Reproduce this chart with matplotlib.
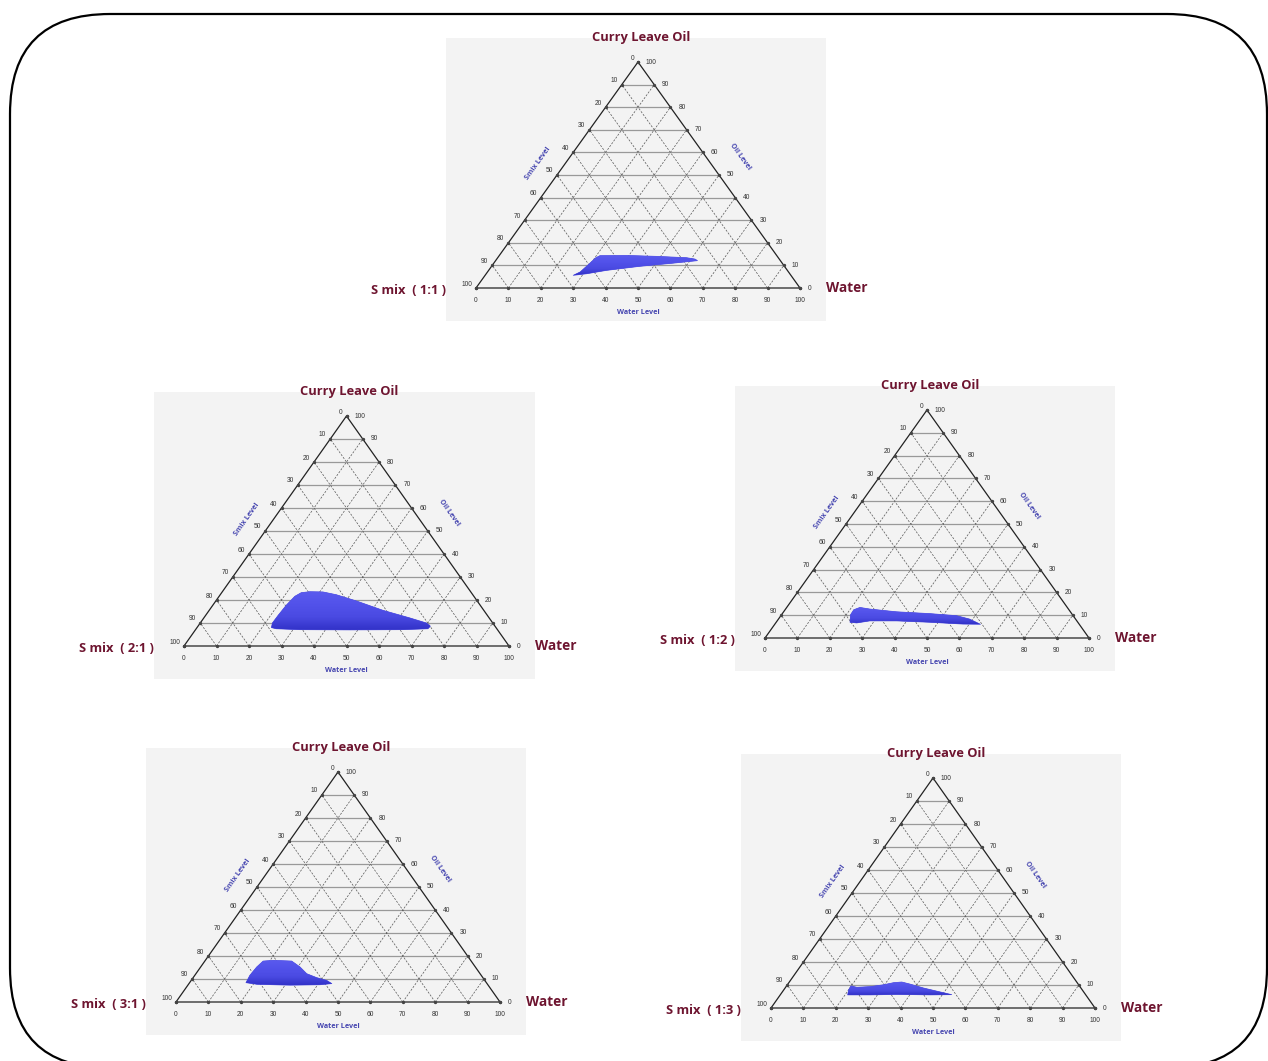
import numpy as np
import matplotlib
matplotlib.use("Agg")
import matplotlib.pyplot as plt
from matplotlib.patches import Polygon, FancyBboxPatch
from matplotlib.colors import LinearSegmentedColormap

# Microemulsion region outlines: % water and % curry leave oil (S mix is the rest)
water_11 = [27.2, 28.6, 29.5, 30.3, 31.1, 39.3, 48.8, 58.3, 61.2, 62.3, 55.4, 45.8, 36.4, 31.0]
oil_11 = [5.6, 7.1, 10.3, 13.4, 14.3, 14.4, 14.0, 13.4, 12.8, 12.1, 11.0, 9.6, 7.8, 6.3]

water_21 = [22.9, 22.2, 22.3, 22.6, 23.3, 24.5, 26.9, 31.0, 35.7, 43.2, 53.5, 63.4, 69.6,
            71.5, 71.3, 63.8, 47.5, 32.0, 24.6]
oil_21 = [8.0, 10.0, 13.3, 17.7, 21.6, 23.2, 23.6, 23.5, 22.3, 19.6, 15.5, 12.2, 10.0,
          8.6, 7.5, 7.1, 7.0, 7.1, 7.5]

water_12 = [22.8, 21.3, 21.2, 22.6, 26.0, 34.8, 45.5, 54.2, 59.0, 63.5, 58.1, 47.4, 36.9, 28.6, 25.0]
oil_12 = [6.9, 10.2, 12.4, 13.4, 12.7, 11.5, 10.7, 9.8, 8.3, 6.0, 6.1, 6.9, 7.5, 7.5, 6.6]

water_31 = [17.4, 17.0, 17.3, 18.0, 21.0, 26.8, 30.7, 34.2, 38.1, 41.8, 44.1, 40.7, 31.6, 21.1]
oil_31 = [8.4, 11.6, 15.2, 17.8, 18.1, 17.8, 15.2, 12.3, 10.6, 9.4, 8.0, 7.5, 7.3, 7.7]

water_13 = [20.8, 20.0, 19.9, 22.0, 26.0, 29.7, 32.3, 34.7, 37.7, 42.7, 47.6, 52.9, 46.3, 35.9, 27.8]
oil_13 = [5.7, 8.0, 9.6, 9.0, 9.3, 10.1, 11.0, 11.3, 10.4, 8.7, 7.3, 5.8, 5.7, 5.9, 5.7]

ratios = ["1:1", "2:1", "1:2", "3:1", "1:3"]
regions = {
    "1:1": (water_11, oil_11),
    "2:1": (water_21, oil_21),
    "1:2": (water_12, oil_12),
    "3:1": (water_31, oil_31),
    "1:3": (water_13, oil_13),
}
ticks = list(range(0, 101, 10))

# triangle placement in pixels: bottom-left x, bottom y, width, height
layout = {
    "1:1": (476, 288, 324, 226),
    "2:1": (184, 646, 325, 230),
    "1:2": (765, 638, 324, 228),
    "3:1": (176, 1002, 324, 230),
    "1:3": (771, 1008, 324, 230),
}

W, H = 1268, 1061
TITLE_COL = "#6e1530"
AXIS_COL = "#4646b0"
TICK_COL = "#333333"
PAD_L, PAD_R, PAD_T, PAD_B = 30, 26, 24, 33

region_cmap = LinearSegmentedColormap.from_list(
    "region", ["#3232c8", "#4a4ae2", "#5252ea", "#5a5aee"])


def to_xy(water, oil):
    water = np.asarray(water, float)
    oil = np.asarray(oil, float)
    return water + oil / 2.0, oil


def draw_panel(fig, ratio):
    bx, by, tw, th = layout[ratio]
    sx, sy = tw / 100.0, th / 100.0
    x0, x1 = bx - PAD_L, bx + tw + PAD_R
    y0, y1 = by - th - PAD_T, by + PAD_B
    ax = fig.add_axes([x0 / W, 1 - y1 / H, (x1 - x0) / W, (y1 - y0) / H])
    ax.set_facecolor("#f3f3f3")
    for s in ax.spines.values():
        s.set_visible(False)
    ax.set_xticks([])
    ax.set_yticks([])

    # grid
    for v in ticks[1:-1]:
        ax.plot([v / 2, 100 - v / 2], [v, v], color="#999999", lw=0.9, zorder=1)
        ax.plot([v, v + (100 - v) / 2], [0, 100 - v], color="#555555", lw=0.5,
                ls=(0, (3, 2)), zorder=1)
        ax.plot([v, v / 2], [0, v], color="#555555", lw=0.5, ls=(0, (3, 2)), zorder=1)

    # triangle outline
    ax.plot([0, 100, 50, 0], [0, 0, 100, 0], color="#222222", lw=0.9, zorder=3)

    # edge tick dots
    tv = np.array(ticks, float)
    ax.plot(tv, np.zeros_like(tv), "o", ms=1.4, color="#444444", zorder=3)
    ax.plot(tv / 2, tv, "o", ms=1.4, color="#444444", zorder=3)
    ax.plot(100 - tv / 2, tv, "o", ms=1.4, color="#444444", zorder=3)

    tick_kw = dict(textcoords="offset pixels", fontsize=4.8, color=TICK_COL,
                   family="Liberation Sans")
    for v in ticks:
        ax.annotate(str(v), (v, 0), xytext=(0, -12), ha="center", va="center", **tick_kw)
        # S mix level along the left edge (100 at the bottom-left corner)
        ax.annotate(str(100 - v), (v / 2, v), xytext=(-4, 4), ha="right", va="center", **tick_kw)
        # oil level along the right edge
        ax.annotate(str(v), (100 - v / 2, v), xytext=(8, 0), ha="left", va="center", **tick_kw)

    ang = np.degrees(np.arctan2(th, tw / 2))
    lab_kw = dict(fontsize=5.2, color=AXIS_COL, fontweight="bold", family="Open Sans",
                  ha="center", va="center")
    ax.text(19.2, 55, "Smix Level", rotation=ang, **lab_kw)
    ax.text(81.5, 58, "Oil Level", rotation=-ang, **lab_kw)
    ax.annotate("Water Level", (50, 0), xytext=(0, -24), textcoords="offset pixels", **lab_kw)

    big_kw = dict(textcoords="offset pixels", fontsize=9.3, color=TITLE_COL,
                  fontweight="bold", family="Open Sans", annotation_clip=False)
    ax.annotate("Curry Leave Oil", (50, 100), xytext=(3, 24), ha="center", va="center", **big_kw)
    ax.annotate(f"S mix  ( {ratio} )", (0, 0), xytext=(-30, -3), ha="right", va="center", **big_kw)
    ax.annotate("Water", (100, 0), xytext=(26, 0), ha="left", va="center",
                **{**big_kw, "fontsize": 9.8})

    # shaded microemulsion region
    water, oil = regions[ratio]
    x, y = to_xy(water, oil)
    poly = Polygon(np.column_stack([x, y]), closed=True, facecolor="#5252e8",
                   edgecolor="#4a4ae0", lw=0.5, joinstyle="round", zorder=4)
    ax.add_patch(poly)
    grad = np.linspace(0, 1, 64).reshape(-1, 1)
    im = ax.imshow(grad, extent=(x.min(), x.max(), y.min(), y.max()), origin="lower",
                   cmap=region_cmap, aspect="auto", zorder=5, interpolation="bilinear")
    im.set_clip_path(poly)

    ax.set_xlim(-PAD_L / sx, 100 + PAD_R / sx)
    ax.set_ylim(-PAD_B / sy, 100 + PAD_T / sy)
    return ax


fig = plt.figure(figsize=(W / 100, H / 100), dpi=100)
fig.patch.set_facecolor("white")

# rounded frame around the whole figure, running off the right and bottom edges
frame = fig.add_axes([0, 0, 1, 1], zorder=-5)
frame.set_xlim(0, W)
frame.set_ylim(H, 0)
frame.axis("off")
frame.add_patch(FancyBboxPatch((10, 14), 1257, 1054, boxstyle="round,pad=0,rounding_size=100",
                               facecolor="white", edgecolor="black", lw=1.6))

for r in ratios:
    draw_panel(fig, r)

fig.savefig("out.png", dpi=100)
